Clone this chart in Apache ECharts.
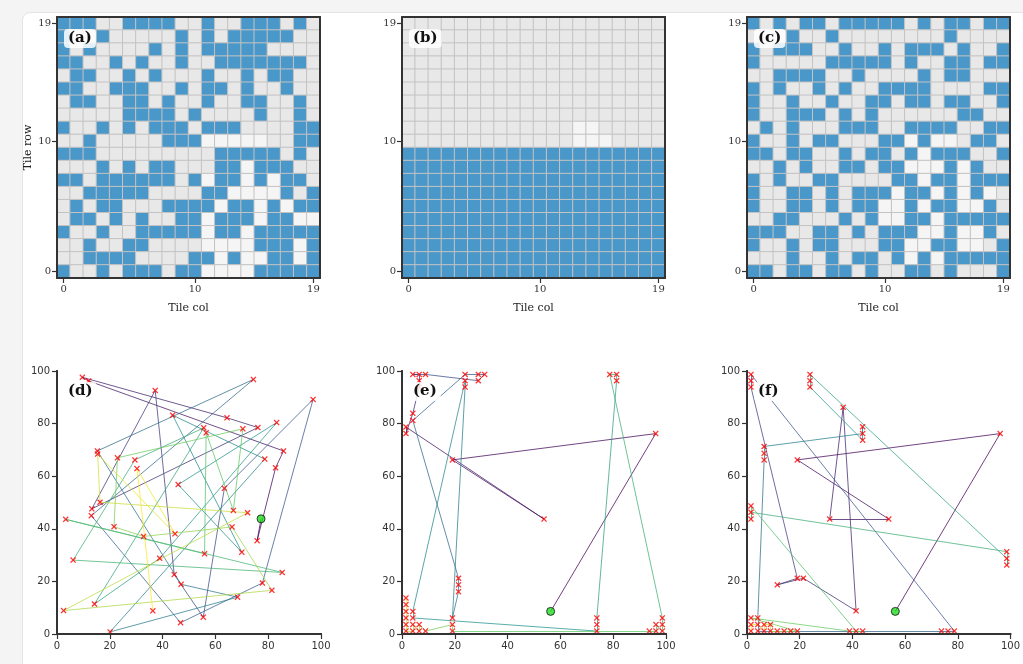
<!DOCTYPE html>
<html>
<head>
<meta charset="UTF-8">
<title>Tile layouts and routes</title>
<script src="https://cdn.jsdelivr.net/npm/echarts@6.0.0/dist/echarts.min.js"></script>
<style>
  html, body { margin: 0; padding: 0; background: #f4f4f4; }
  /* white card behind the figure */
  #card {
    position: absolute; left: 22px; top: 12px; width: 1020px; height: 670px;
    background: #ffffff; border: 1px solid #e4e4e4; border-radius: 8px;
  }
  #main { position: absolute; left: 0; top: 0; width: 1023px; height: 664px; }
</style>
</head>
<body>
<div id="card"></div>
<div id="main"></div>
<script>
// tile grids: 0 = empty, 1 = filled, 2 = empty (lighter). rows listed from row 19 down to row 0
const tileTicks = [0, 10, 19];
const tilesA = [
  [1,1,1,0,0,1,1,1,1,0,0,1,0,0,1,1,1,0,1,0],
  [1,0,0,1,0,0,0,0,0,1,0,1,0,1,1,1,1,1,0,0],
  [1,0,1,0,0,0,0,1,0,1,0,1,1,1,1,1,0,0,0,0],
  [1,1,0,0,1,0,1,0,0,1,0,0,1,1,1,1,1,1,1,0],
  [0,1,1,0,0,1,0,1,0,0,0,1,0,0,1,0,1,1,0,0],
  [1,1,0,0,1,1,1,0,0,1,0,1,1,0,1,0,0,1,0,0],
  [0,1,1,0,0,1,1,0,1,0,0,1,0,0,1,1,0,0,1,0],
  [0,0,0,0,0,1,1,1,1,0,1,0,0,0,0,1,0,0,1,0],
  [1,0,0,1,0,1,0,1,1,1,0,1,1,1,0,0,0,0,1,1],
  [0,0,1,0,0,0,0,0,1,1,1,2,2,2,2,2,0,0,1,1],
  [1,1,1,0,0,0,0,0,0,0,0,0,1,1,1,1,1,0,1,0],
  [0,0,0,1,0,1,0,1,1,0,0,0,1,1,2,1,1,1,0,0],
  [1,1,0,1,1,1,1,1,1,0,1,2,1,1,2,1,2,1,1,0],
  [0,0,1,1,1,1,1,0,0,0,0,1,1,2,2,2,2,1,0,1],
  [0,1,0,1,1,0,0,0,1,1,1,1,2,1,1,2,1,2,1,1],
  [0,1,1,0,1,0,1,0,0,1,1,2,1,1,1,2,1,1,2,2],
  [1,0,0,1,0,0,1,1,1,1,1,2,1,1,2,1,1,1,1,1],
  [0,0,1,0,0,1,1,0,0,0,0,2,2,2,2,1,1,1,2,1],
  [0,0,1,1,1,1,0,0,0,0,1,1,2,1,2,2,1,1,2,1],
  [1,0,0,1,0,1,1,1,0,1,1,2,2,2,2,1,1,1,1,1]
];
const tilesB = [
  [0,0,0,0,0,0,0,0,0,0,0,0,0,0,0,0,0,0,0,0],
  [0,0,0,0,0,0,0,0,0,0,0,0,0,0,0,0,0,0,0,0],
  [0,0,0,0,0,0,0,0,0,0,0,0,0,0,0,0,0,0,0,0],
  [0,0,0,0,0,0,0,0,0,0,0,0,0,0,0,0,0,0,0,0],
  [0,0,0,0,0,0,0,0,0,0,0,0,0,0,0,0,0,0,0,0],
  [0,0,0,0,0,0,0,0,0,0,0,0,0,0,0,0,0,0,0,0],
  [0,0,0,0,0,0,0,0,0,0,0,0,0,0,0,0,0,0,0,0],
  [0,0,0,0,0,0,0,0,0,0,0,0,0,0,0,0,0,0,0,0],
  [0,0,0,0,0,0,0,0,0,0,0,0,0,2,2,0,0,0,0,0],
  [0,0,0,0,0,0,0,0,0,0,0,0,0,2,2,2,0,0,0,0],
  [1,1,1,1,1,1,1,1,1,1,1,1,1,1,1,1,1,1,1,1],
  [1,1,1,1,1,1,1,1,1,1,1,1,1,1,1,1,1,1,1,1],
  [1,1,1,1,1,1,1,1,1,1,1,1,1,1,1,1,1,1,1,1],
  [1,1,1,1,1,1,1,1,1,1,1,1,1,1,1,1,1,1,1,1],
  [1,1,1,1,1,1,1,1,1,1,1,1,1,1,1,1,1,1,1,1],
  [1,1,1,1,1,1,1,1,1,1,1,1,1,1,1,1,1,1,1,1],
  [1,1,1,1,1,1,1,1,1,1,1,1,1,1,1,1,1,1,1,1],
  [1,1,1,1,1,1,1,1,1,1,1,1,1,1,1,1,1,1,1,1],
  [1,1,1,1,1,1,1,1,1,1,1,1,1,1,1,1,1,1,1,1],
  [1,1,1,1,1,1,1,1,1,1,1,1,1,1,1,1,1,1,1,1]
];
const tilesC = [
  [1,0,1,0,1,1,0,1,1,1,1,1,0,1,0,1,1,0,1,1],
  [0,0,0,1,0,0,1,0,0,0,0,0,0,0,0,1,0,0,0,0],
  [1,0,1,1,1,0,0,1,0,0,1,0,1,1,1,0,1,0,0,1],
  [1,0,0,0,0,0,1,1,1,1,1,0,1,0,0,1,1,0,1,1],
  [0,0,1,1,1,1,0,0,1,0,0,0,0,1,0,1,1,0,0,0],
  [1,0,1,0,0,1,0,1,0,0,1,1,1,1,0,0,0,0,1,1],
  [1,0,0,1,0,0,1,0,0,1,1,0,1,1,0,1,1,0,0,1],
  [1,0,0,1,1,1,0,1,0,1,0,0,0,0,0,0,1,1,0,0],
  [0,1,0,1,0,0,0,1,1,1,0,0,1,1,1,1,0,0,1,1],
  [1,0,0,1,0,1,1,0,0,0,1,1,2,1,2,2,0,1,1,0],
  [1,1,0,1,1,0,0,1,0,1,1,0,1,2,1,1,1,0,0,1],
  [0,0,1,0,1,0,0,1,1,0,1,1,2,2,2,1,2,1,0,0],
  [1,0,1,0,0,1,1,0,0,0,0,1,1,2,1,1,2,1,1,1],
  [1,0,0,1,1,0,1,0,1,1,1,2,1,1,2,1,2,1,2,0],
  [1,0,0,1,1,0,1,0,1,1,2,2,1,2,1,1,2,2,1,0],
  [0,0,1,1,0,0,0,1,0,1,2,2,1,1,2,1,1,1,1,1],
  [1,1,1,0,0,1,1,0,1,0,1,1,1,2,2,1,2,2,1,0],
  [1,0,0,1,0,1,1,0,0,0,1,1,2,2,1,1,2,2,0,1],
  [0,0,0,1,0,0,1,0,1,1,0,1,2,1,2,1,1,1,1,1],
  [1,1,0,1,1,0,1,1,0,1,0,0,1,1,0,1,0,0,0,1]
];

// routes: first point is the depot (green), then stops in visiting order
const routeD = [
  [77.3,43.8],[75.8,35.5],[82.8,63.2],[85.8,69.6],[12.0,96.2],[9.6,97.6],[64.4,82.2],[76.1,78.5],
  [13.2,47.6],[37.2,92.6],[44.4,22.6],[55.4,6.4],[63.4,55.4],[97.0,89.2],[77.8,19.4],[46.8,4.3],
  [13.0,45.0],[74.4,96.8],[15.3,69.6],[47.0,18.9],[68.4,14.0],[20.1,0.8],[78.7,66.5],[43.8,83.2],
  [70.0,31.1],[45.9,56.8],[83.2,80.4],[38.9,28.8],[14.2,11.4],[55.6,78.4],[29.5,66.2],[6.1,28.1],
  [85.3,23.4],[3.3,43.6],[55.9,30.5],[56.5,76.5],[66.8,47.0],[70.4,78.0],[22.9,67.0],[21.6,40.8],
  [32.8,37.1],[66.3,40.7],[81.4,16.6],[2.5,8.9],[72.2,46.1],[16.3,50.1],[15.4,68.4],[44.7,38.1],
  [30.3,62.9],[36.3,8.8]
];
const routeE = [
  [56.3,8.6],[96.1,76.2],[19.1,66.2],[53.8,43.7],[1.5,78.7],[1.5,76.2],[4.1,83.9],[6.5,93.9],
  [6.5,96.3],[6.5,98.7],[4.1,98.7],[8.9,98.7],[28.9,96.3],[31.3,98.7],[28.9,98.7],[23.9,98.7],
  [4.1,81.2],[21.4,21.2],[21.4,18.7],[21.4,16.1],[19.1,6.1],[23.9,93.9],[23.9,96.3],[4.1,8.6],
  [4.1,6.1],[73.8,1.1],[73.8,3.6],[73.8,6.1],[81.3,96.3],[81.3,98.7],[78.7,98.7],[98.6,6.1],
  [98.6,3.6],[98.6,1.1],[96.2,3.6],[96.2,1.1],[93.7,1.1],[19.1,1.1],[19.1,3.6],[8.9,1.1],
  [6.5,3.6],[6.5,1.1],[4.1,3.6],[4.1,1.1],[1.5,1.1],[1.5,3.6],[1.5,6.1],[1.5,8.6],[1.5,11.2],
  [1.5,13.7]
];
const routeF = [
  [56.3,8.6],[96.1,76.2],[19.1,66.2],[53.8,43.7],[31.4,43.7],[36.5,86.2],[41.4,8.8],[21.4,21.2],
  [11.5,18.7],[19.1,21.2],[1.5,93.9],[1.5,96.3],[1.5,98.7],[78.7,1.1],[76.3,1.1],[73.8,1.1],
  [4.1,1.1],[4.1,6.1],[6.5,66.2],[6.5,68.7],[6.5,71.3],[43.9,76.2],[43.9,78.8],[43.9,73.7],
  [23.9,93.9],[23.9,96.3],[23.9,98.7],[98.6,28.7],[98.6,26.2],[98.6,31.3],[1.5,46.3],[1.5,43.7],
  [1.5,48.7],[41.4,1.1],[43.9,1.1],[38.9,1.1],[1.5,6.1],[19.1,1.1],[16.6,1.1],[14.1,1.1],
  [11.5,1.1],[8.9,1.1],[8.9,3.6],[6.5,3.6],[6.5,1.1],[4.1,3.6],[1.5,3.6],[1.5,1.1]
];

const panelLabels = ['(a)', '(b)', '(c)', '(d)', '(e)', '(f)'];

// --- helpers ---
const serif = 'DejaVu Serif';
const sans = 'DejaVu Sans';
const spine = { show: true, lineStyle: { color: '#333', width: 2 } };
const tileCats = Array.from({ length: 20 }, (_, i) => String(i));
const showTick = (idx) => tileTicks.indexOf(idx) >= 0;

// viridis colour along the route
const viridis = [[68,1,84],[59,82,139],[33,145,140],[94,201,98],[253,231,37]];
function viridisAt(t) {
  const s = t * (viridis.length - 1);
  const i = Math.min(Math.floor(s), viridis.length - 2);
  const f = s - i;
  const c = viridis[i].map((v, k) => Math.round(v + (viridis[i + 1][k] - v) * f));
  return 'rgb(' + c.join(',') + ')';
}

function tileData(rows) {
  const out = [];
  rows.forEach((row, r) => {
    const y = rows.length - 1 - r;
    row.forEach((v, x) => out.push([x, y, v]));
  });
  return out;
}

const topLefts = [57, 402, 747];
const grids = [];
const xAxes = [];
const yAxes = [];
const series = [];
const titles = [];
const tickStyle = { show: true, length: 5, lineStyle: { color: '#333', width: 1.2 } };

// top row: tile maps
[tilesA, tilesB, tilesC].forEach((tiles, p) => {
  grids.push({ left: topLefts[p], top: 17, width: 263, height: 261 });
  const base = {
    type: 'category', data: tileCats, gridIndex: p, z: 10,
    axisLine: spine, splitLine: { show: false }
  };
  const ticks = Object.assign({}, tickStyle, { interval: showTick, alignWithLabel: true });
  const labels = { interval: showTick, fontFamily: serif, fontSize: 10, color: '#333', margin: 6 };
  xAxes.push(Object.assign({}, base, {
    position: 'bottom',
    name: 'Tile col', nameLocation: 'middle', nameGap: 25,
    nameTextStyle: { fontFamily: serif, fontSize: 11, color: '#222' },
    axisTick: ticks, axisLabel: labels
  }));
  xAxes.push(Object.assign({}, base, { position: 'top', axisTick: { show: false }, axisLabel: { show: false } }));
  yAxes.push(Object.assign({}, base, {
    position: 'left',
    name: p === 0 ? 'Tile row' : '', nameLocation: 'middle', nameGap: 23,
    nameTextStyle: { fontFamily: serif, fontSize: 11, color: '#222' },
    axisTick: ticks, axisLabel: labels
  }));
  yAxes.push(Object.assign({}, base, { position: 'right', axisTick: { show: false }, axisLabel: { show: false } }));
  series.push({
    type: 'heatmap', xAxisIndex: 2 * p, yAxisIndex: 2 * p,
    data: tileData(tiles),
    itemStyle: { borderColor: '#c3c3c3', borderWidth: 1 },
    emphasis: { disabled: true }
  });
});

// bottom row: routes
[routeD, routeE, routeF].forEach((route, q) => {
  const p = q + 3;
  grids.push({ left: topLefts[q], top: 371, width: 264, height: 263 });
  const base = {
    type: 'value', min: 0, max: 100, interval: 20, gridIndex: p, z: 10,
    axisLine: spine, splitLine: { show: false }
  };
  const labels = { fontFamily: sans, fontSize: 10, color: '#333', margin: 7 };
  xAxes.push(Object.assign({}, base, { position: 'bottom', axisTick: tickStyle, axisLabel: labels }));
  xAxes.push(Object.assign({}, base, { position: 'top', axisTick: { show: false }, axisLabel: { show: false } }));
  yAxes.push(Object.assign({}, base, { position: 'left', axisTick: tickStyle, axisLabel: labels }));
  yAxes.push(Object.assign({}, base, { position: 'right', axisTick: { show: false }, axisLabel: { show: false } }));

  const segs = [];
  for (let i = 0; i < route.length - 1; i++) {
    segs.push({
      coords: [route[i], route[i + 1]],
      lineStyle: { color: viridisAt(i / (route.length - 2)) }
    });
  }
  series.push({
    type: 'lines', coordinateSystem: 'cartesian2d', xAxisIndex: 2 * p, yAxisIndex: 2 * p,
    data: segs, lineStyle: { width: 1, opacity: 0.75 }, z: 2
  });
  series.push({
    type: 'scatter', xAxisIndex: 2 * p, yAxisIndex: 2 * p,
    data: route.slice(1),
    symbol: 'path://M1.5,0L5,3.5L8.5,0L10,1.5L6.5,5L10,8.5L8.5,10L5,6.5L1.5,10L0,8.5L3.5,5L0,1.5Z',
    symbolSize: 6, itemStyle: { color: '#ff0000' }, z: 3
  });
  series.push({
    type: 'scatter', xAxisIndex: 2 * p, yAxisIndex: 2 * p,
    data: [route[0]], symbol: 'circle', symbolSize: 8,
    itemStyle: { color: '#22dd22', borderColor: '#111', borderWidth: 1 }, z: 4
  });
});

panelLabels.forEach((lab, i) => {
  titles.push({
    text: lab,
    left: topLefts[i % 3] + 7, top: i < 3 ? 29 : 382,
    padding: [2, 4], backgroundColor: 'rgba(255,255,255,0.85)', borderRadius: 4,
    textStyle: { fontFamily: serif, fontWeight: 'bold', fontSize: 15, color: '#111' }
  });
});

var myChart = echarts.init(document.getElementById('main'));
myChart.setOption({
  backgroundColor: 'transparent',
  animation: false,
  title: titles,
  grid: grids,
  xAxis: xAxes,
  yAxis: yAxes,
  visualMap: {
    type: 'piecewise', show: false, dimension: 2, seriesIndex: [0, 1, 2],
    pieces: [
      { value: 0, color: '#e8e8e8' },
      { value: 1, color: '#4a97c9' },
      { value: 2, color: '#f5f5f5' }
    ]
  },
  series: series
});
</script>
</body>
</html>
